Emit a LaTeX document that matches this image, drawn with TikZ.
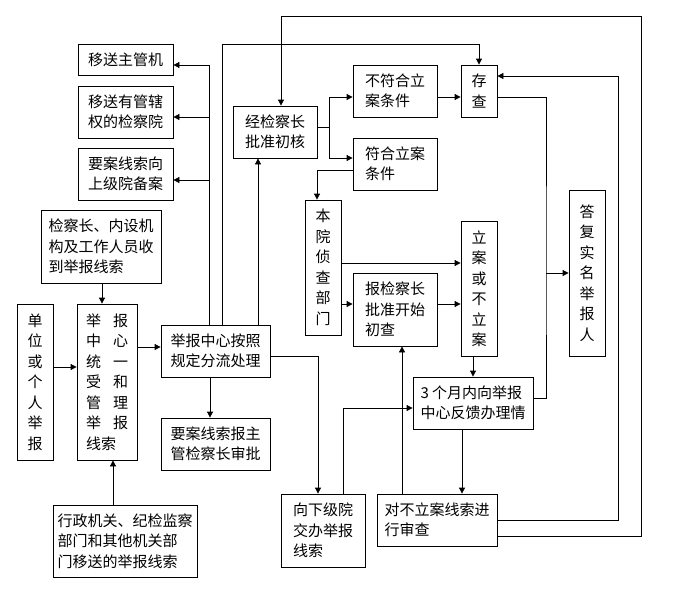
\documentclass[tikz,border=0pt]{standalone}
\usepackage{fontspec}
\newfontfamily\cjk{Noto Sans CJK SC}
\usetikzlibrary{ arrows.meta, % For the filled arrow tips
               }
\tikzstyle{box} = [rectangle, draw=black, line width=0.8pt, inner sep=0pt, align=left, font=\cjk\fontsize{15}{20.5}\selectfont]
\tikzstyle{tall} = [box, align=center]
\tikzstyle{flow} = [-{Triangle[length=6pt, width=6pt]}, line width=0.8pt]
\tikzstyle{wire} = [line width=0.8pt]

\begin{document}
\begin{tikzpicture}[x=1pt, y=-1pt]
  \useasboundingbox (0, 0) rectangle (683, 605);

  \node (zg) [box, minimum width=95pt, minimum height=31pt] at (125.5, 59.5) {移送主管机};
  \node (gx) [box, minimum width=95pt, minimum height=52pt] at (125.5, 112) {移送有管辖\\权的检察院};
  \node (ba) [box, minimum width=95pt, minimum height=52pt] at (125.5, 174) {要案线索向\\上级院备案};
  \node (sd) [box, minimum width=120pt, minimum height=73pt] at (101, 246.5) {检察长、内设机\\构及工作人员收\\到举报线索};
  \node (dw) [tall, minimum width=36pt, minimum height=156pt] at (35, 382) {单\\位\\或\\个\\人\\举\\报};
  \node (zx) [box, minimum width=60pt, minimum height=156pt] at (107, 382) {举\hspace{12pt}报\\中\hspace{12pt}心\\统\hspace{12pt}一\\受\hspace{12pt}和\\管\hspace{12pt}理\\举\hspace{12pt}报\\线索};
  \node (fl) [box, minimum width=109pt, minimum height=52pt] at (215.5, 351) {举报中心按照\\规定分流处理};
  \node (sp) [box, minimum width=109pt, minimum height=52pt] at (215.5, 444) {要案线索报主\\管检察长审批};
  \node (ys) [box, minimum width=144pt, minimum height=72pt] at (125, 541) {行政机关、纪检监察\\部门和其他机关部\\门移送的举报线索};

  \node (ch) [box, minimum width=84pt, minimum height=52pt] at (275, 132) {经检察长\\批准初核};
  \node (bf) [box, minimum width=84pt, minimum height=52pt] at (395, 91) {不符合立\\案条件};
  \node (fh) [box, minimum width=84pt, minimum height=52pt] at (395, 164) {符合立案\\条件};
  \node (zc) [tall, minimum width=36pt, minimum height=135pt] at (323, 267.5) {本\\院\\侦\\查\\部\\门};
  \node (cc) [box, minimum width=84pt, minimum height=73pt] at (395, 309.5) {报检察长\\批准开始\\初查};
  \node (cun) [tall, minimum width=36pt, minimum height=52pt] at (479, 91) {存\\查};
  \node (la) [tall, minimum width=36pt, minimum height=135pt] at (479, 288.5) {立\\案\\或\\不\\立\\案};
  \node (df) [tall, minimum width=36pt, minimum height=166pt] at (587, 273) {答\\复\\实\\名\\举\\报\\人};
  \node (fk) [box, minimum width=120pt, minimum height=52pt] at (473, 403) {3 个月内向举报\\中心反馈办理情};
  \node (jb) [box, minimum width=84pt, minimum height=73pt] at (323, 530.5) {向下级院\\交办举报\\线索};
  \node (sc) [box, minimum width=120pt, minimum height=52pt] at (437, 520) {对不立案线索进\\行审查};

  \coordinate (t1) at (209, 65);
  \coordinate (t2) at (209, 117);
  \coordinate (t3) at (209, 180);
  \coordinate (fork) at (329, 127);
  \coordinate (tap) at (546, 273);

  \draw[flow] (dw.east |- 0,367) -- (zx.west |- 0,367);
  \draw[flow] (sd.south -| 102,0) -- (zx.north -| 102,0);
  \draw[flow] (ys.north -| 113,0) -- (zx.south -| 113,0);
  \draw[flow] (zx.east |- 0,347) -- (fl.west |- 0,347);
  \draw[flow] (fl.south -| 210,0) -- (sp.north -| 210,0);
  \draw[wire] (fl.north -| t1) -- (t1);
  \draw[flow] (t1) -- (zg.east |- t1);
  \draw[flow] (t2) -- (gx.east |- t2);
  \draw[flow] (t3) -- (ba.east |- t3);
  \draw[flow] (fl.north -| 222,0) -- (222,44) -| (cun.north);
  \draw[flow] (fl.north -| 258,0) -- (ch.south -| 258,0);
  \draw[flow] (fl.east |- 0,356) -| (jb.north -| 318,0);

  \draw[wire] (ch.east |- fork) -- (fork);
  \draw[flow] (fork) |- (bf.west |- 0,97);
  \draw[flow] (fork) |- (fh.west |- 0,158);
  \draw[flow] (bf.east |- 0,97) -- (cun.west |- 0,97);
  \draw[flow] (fh.west |- 0,170) -| (zc.north -| 317,0);
  \draw[flow] (zc.east |- 0,263) -- (la.west |- 0,263);
  \draw[flow] (zc.east |- 0,304) -- (cc.west |- 0,304);
  \draw[flow] (cc.east |- 0,304) -- (la.west |- 0,304);
  \draw[flow] (la.south -| 473,0) -- (fk.north -| 473,0);
  \draw[flow] (fk.south -| 462,0) -- (sc.north -| 462,0);
  \draw[wire] (fk.east |- 0,398) -| (tap) |- (cun.east |- 0,97);
  \draw[flow] (tap) -- (df.west |- tap);
  \draw[flow] (sc.east |- 0,520) -- (618,520) |- (cun.east |- 0,76);
  \draw[flow] (sc.east |- 0,536) -- (641,536) |- (281,16) -- (ch.north -| 281,0);
  \draw[flow] (sc.north -| 402,0) -- (cc.south -| 402,0);
  \draw[flow] (jb.north -| 343,0) |- (fk.west |- 0,408);
\end{tikzpicture}
\end{document}
